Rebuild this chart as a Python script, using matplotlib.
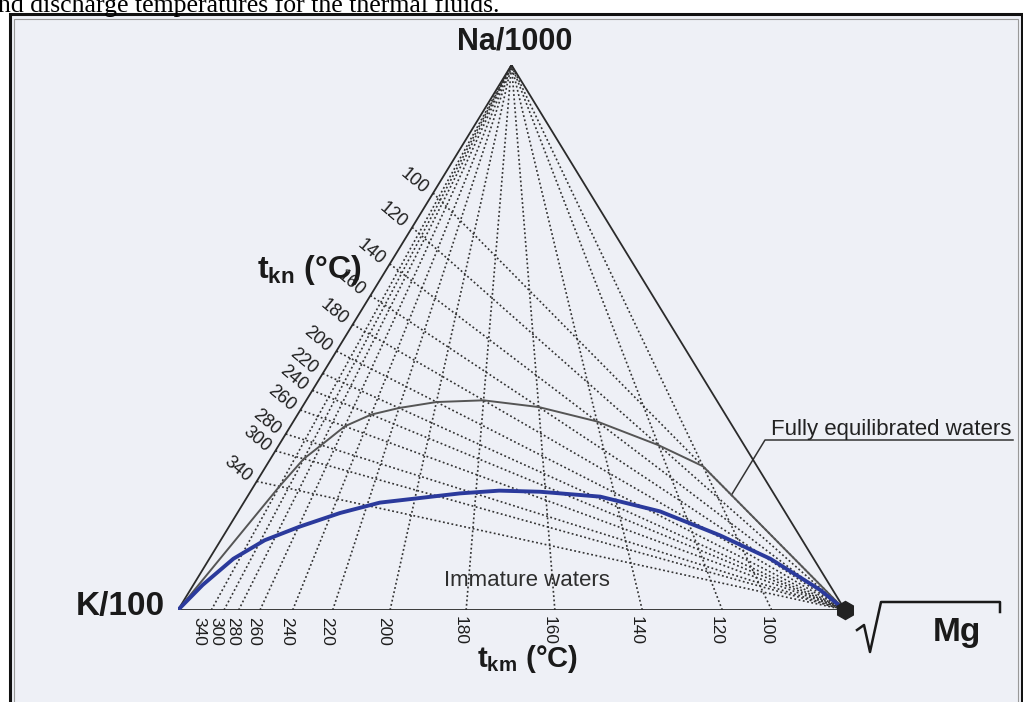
import numpy as np
import matplotlib.pyplot as plt
from matplotlib.patches import Rectangle
from matplotlib.lines import Line2D

plt.rcParams['font.family'] = ['Liberation Sans', 'DejaVu Sans']
plt.rcParams['mathtext.fontset'] = 'custom'
plt.rcParams['mathtext.rm'] = 'Liberation Sans'
plt.rcParams['mathtext.bf'] = 'Liberation Sans:bold'

# Na/K temperatures (deg C) and the Na/1000 fraction where each line meets the K-Na side
tkn_temp = [100, 120, 140, 160, 180, 200, 220, 240, 260, 280, 300, 340]
tkn_na = [0.765, 0.702, 0.635, 0.577, 0.524, 0.475, 0.434, 0.403, 0.367, 0.323, 0.292, 0.236]

# K/Mg temperatures (deg C) and the sqrt(Mg) fraction where each line meets the K-Mg base
tkm_temp = [100, 120, 140, 160, 180, 200, 220, 240, 260, 280, 300, 340]
tkm_mg = [0.890, 0.816, 0.696, 0.565, 0.432, 0.318, 0.232, 0.172, 0.123, 0.091, 0.069, 0.050]

# immature waters boundary, in % of Na/1000, K/100 and sqrt(Mg)
imm_na = [0, 4.6, 9.4, 12.8, 15.3, 17.8, 19.7, 21.4, 21.9, 21.7, 20.8, 18.1, 13.7, 9.4, 3.7, 0]
imm_k = [100, 94.0, 87.0, 80.6, 74.1, 66.8, 59.9, 47.0, 40.9, 34.9, 26.3, 18.7, 11.9, 6.5, 1.9, 0]
imm_mg = [0, 1.4, 3.6, 6.6, 10.6, 15.4, 20.4, 31.6, 37.2, 43.4, 52.9, 63.2, 74.4, 84.1, 94.4, 100]


def tern(na, k, mg):
    na, k, mg = np.asarray(na, float), np.asarray(k, float), np.asarray(mg, float)
    s = na + k + mg
    return (mg + na / 2) / s, na / s


W, H = 1023, 702
fig = plt.figure(figsize=(W / 100, H / 100), dpi=100)
fig.patch.set_facecolor('white')

# scanned page box
fig.add_artist(Rectangle((10 / W, -0.01), 1012 / W, (H - 14) / H + 0.01,
                         transform=fig.transFigure, facecolor='#eef0f6',
                         edgecolor='#111111', lw=2.2, zorder=0))
fig.add_artist(Rectangle((14 / W, -0.01), 1004 / W, (H - 19) / H + 0.01,
                         transform=fig.transFigure, facecolor='none',
                         edgecolor='#999999', lw=0.8, zorder=0))
fig.text(-2 / W, (H - 12) / H, 'nd discharge temperatures for the thermal fluids.',
         family='Liberation Serif', fontsize=18.5, va='baseline', ha='left', color='black')

ax = fig.add_axes([178 / W, 92 / H, 667 / W, 545 / H])
ax.set_xlim(0, 1)
ax.set_ylim(0, 1)
ax.axis('off')

K, MG, NA = np.array([0.0, 0.0]), np.array([1.0, 0.0]), np.array([0.5, 1.0])
dot = dict(color='#333333', lw=1.2, ls=(0, (1.1, 1.5)), zorder=2)

# t_kn lines: from the K-Na side to the Mg corner
for f in tkn_na:
    p = tern(f, 1 - f, 0)
    ax.plot([p[0], 1], [p[1], 0], **dot)

# t_km lines: from the K-Mg base to the Na corner
for g in tkm_mg:
    q = tern(0, 1 - g, g)
    ax.plot([q[0], 0.5], [q[1], 1], **dot)

# triangle
ax.plot([0, 0.5, 1, 0], [0, 1, 0, 0], color='#2b2b2b', lw=1.3, zorder=3)

# full equilibrium curve: crossing of the t_kn and t_km lines of equal temperature
eq = {}
for t, f in zip(tkn_temp, tkn_na):
    eq[t] = [np.array(tern(f, 1 - f, 0))]
for t, g in zip(tkm_temp, tkm_mg):
    eq[t].append(np.array(tern(0, 1 - g, g)))
pts = []
for t in sorted(eq, reverse=True):
    p, q = eq[t]
    a = np.column_stack([MG - p, -(NA - q)])
    s, u = np.linalg.solve(a, q - p)
    pts.append(p + s * (MG - p))
pts = np.array([K] + pts + [MG])
ax.plot(pts[:, 0], pts[:, 1], color='#555555', lw=1.4, zorder=4)

# immature waters boundary
ix, iy = tern(imm_na, imm_k, imm_mg)
ax.plot(ix, iy, color='#2b3a9c', lw=2.8, zorder=5, solid_capstyle='round',
        solid_joinstyle='round')
ax.plot([1], [0], marker='h', ms=13, color='#222222', zorder=6, clip_on=False)

# temperature labels on the K-Na side
for t, f in zip(tkn_temp, tkn_na):
    p = tern(f, 1 - f, 0)
    ax.annotate(str(t), p, xytext=(-19, 12), textcoords='offset pixels',
                rotation=-40, ha='center', va='center', fontsize=13,
                color='#1e1e1e', annotation_clip=False)

# temperature labels below the base, pushed apart where they crowd
lx = []
nxt = None
for g in tkm_mg:
    x = g * 667 - 6
    if nxt is not None:
        x = min(x, nxt - 17)
    lx.append(x)
    nxt = x
for t, x in zip(tkm_temp, lx):
    ax.annotate(str(t), (x / 667, 0), xytext=(0, -21), textcoords='offset pixels',
                rotation=-90, ha='center', va='center', fontsize=12.5,
                color='#1e1e1e', annotation_clip=False)

# corner and axis titles
ax.annotate('Na/1000', (0.5, 1), xytext=(3, 24), textcoords='offset pixels',
            ha='center', va='center', fontsize=22, fontweight='bold',
            color='#1a1a1a', annotation_clip=False)
ax.annotate('K/100', (0, 0), xytext=(-58, 3), textcoords='offset pixels',
            ha='center', va='center', fontsize=24, fontweight='bold',
            color='#1a1a1a', annotation_clip=False)
ax.annotate('Mg', (1, 0), xytext=(112, -22), textcoords='offset pixels',
            ha='center', va='center', fontsize=24, fontweight='bold',
            color='#1a1a1a', annotation_clip=False)
rad = Line2D(np.array([857, 864, 870, 881, 1000, 1000]) / W,
             1 - np.array([630, 625, 652, 602, 602, 612]) / H,
             transform=fig.transFigure, color='#1a1a1a', lw=1.8)
fig.add_artist(rad)

fig.text(309 / W, 1 - 270 / H, r'$\mathbf{t_{kn}}$ (°C)', ha='center', va='center',
         fontsize=23, fontweight='bold', color='#1a1a1a')
fig.text(527 / W, 1 - 659 / H, r'$\mathbf{t_{km}}$ (°C)', ha='center', va='center',
         fontsize=21, fontweight='bold', color='#1a1a1a')

ax.annotate('Immature waters', (0.5, 0), xytext=(15, 30), textcoords='offset pixels',
            ha='center', va='center', fontsize=16, color='#2e2e2e')

# leader from the equilibrium curve to its label
a_pt = pts[-2] + 0.2 * (pts[-1] - pts[-2])
ax.annotate('Fully equilibrated waters', a_pt, xytext=(891 / W, 1 - 429 / H),
            textcoords='figure fraction', ha='center', va='center', fontsize=16,
            color='#222222', annotation_clip=False)
ax.add_artist(Line2D([a_pt[0], (765 - 178) / 667, (1013 - 178) / 667],
                     [a_pt[1], (610 - 440) / 545, (610 - 440) / 545],
                     color='#333333', lw=1.1, clip_on=False))

fig.savefig('out.png', dpi=100)
